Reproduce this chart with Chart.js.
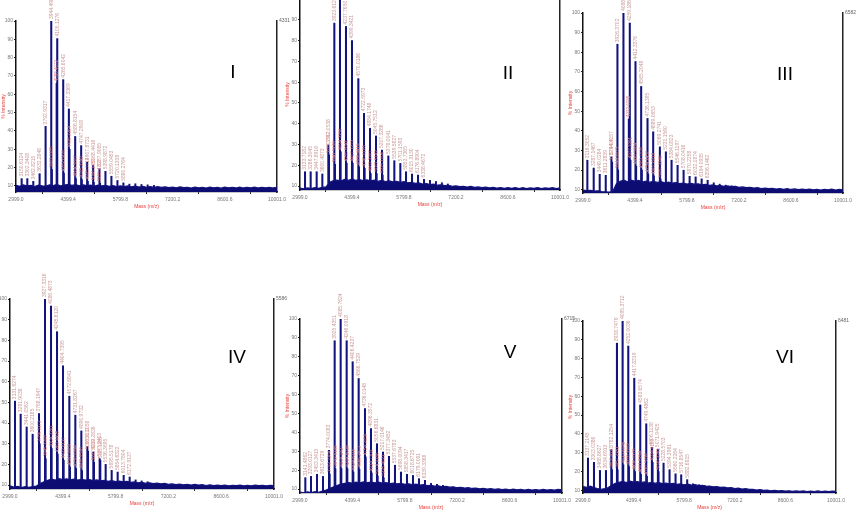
<!DOCTYPE html>
<html>
<head>
<meta charset="utf-8">
<script src="https://cdn.jsdelivr.net/npm/chart.js@4.4.1/dist/chart.umd.min.js"></script>
<style>
  html, body { margin: 0; padding: 0; background: #fff; }
  body { width: 866px; height: 516px; position: relative; overflow: hidden; font-family: 'Liberation Sans', Arial, sans-serif; }
  .panel { position: absolute; }
  .roman { position: absolute; font-size: 19px; line-height: 19px; color: #000; transform: translateX(-50%); white-space: nowrap; }
</style>
</head>
<body>
<div class="panel" style="left:1px; top:-5px; width:292px; height:215px"><canvas id="specI"></canvas></div>
<div class="panel" style="left:285px; top:-27px; width:291px; height:235px"><canvas id="specII"></canvas></div>
<div class="panel" style="left:568px; top:-13px; width:291px; height:224px"><canvas id="specIII"></canvas></div>
<div class="panel" style="left:-5px; top:273px; width:295px; height:234px"><canvas id="specIV"></canvas></div>
<div class="panel" style="left:285px; top:293px; width:293px; height:218px"><canvas id="specV"></canvas></div>
<div class="panel" style="left:568px; top:295px; width:284px; height:216px"><canvas id="specVI"></canvas></div>

<div class="roman" style="left:233px; top:62px">I</div>
<div class="roman" style="left:508px; top:63px">II</div>
<div class="roman" style="left:785px; top:64px">III</div>
<div class="roman" style="left:237px; top:347px">IV</div>
<div class="roman" style="left:510px; top:342px">V</div>
<div class="roman" style="left:785px; top:347px">VI</div>

<script>
// axis ticks
const xTicks = [2999.0, 4399.4, 5799.8, 7200.2, 8600.6, 10001.0];
const yTicks = [10, 20, 30, 40, 50, 60, 70, 80, 90, 100];

// baseline (noise band) sampled every 100 Da
const baseMass = [3000, 3100, 3200, 3300, 3400, 3500, 3600, 3700, 3800, 3900,
    4000, 4100, 4200, 4300, 4400, 4500, 4600, 4700, 4800, 4900,
    5000, 5100, 5200, 5300, 5400, 5500, 5600, 5700, 5800, 5900,
    6000, 6100, 6200, 6300, 6400, 6500, 6600, 6700, 6800, 6900,
    7000, 7100, 7200, 7300, 7400, 7500, 7600, 7700, 7800, 7900,
    8000, 8100, 8200, 8300, 8400, 8500, 8600, 8700, 8800, 8900,
    9000, 9100, 9200, 9300, 9400, 9500, 9600, 9700, 9800, 9900, 10000];

// ---- I ----
const massI = [3150.6124, 3302.3408, 3462.8215, 3632.2846, 3792.9317, 3944.4981, 4105.1276, 4265.6042, 4417.3369,
    4586.8154, 4747.2908, 4907.8731, 5068.4416, 5237.9065, 5398.9872, 5559.0453, 5720.1338, 5880.2764];
const intI = [14, 14, 12.5, 16.7, 42.5, 100, 90.4, 68, 52, 37, 32, 23, 21.3, 19.5, 18, 15.3, 13, 11.7];
const minorMassI = [3962.1185, 4088.4072, 4282.6931, 4435.2264, 4604.5817, 4765.3349, 4925.7712, 5086.1480, 5255.4203,
    6040.5, 6200.8, 6365.2, 6530.7, 6700.3];
const minorIntI = [19, 66, 17, 30, 14, 13.5, 12.5, 12, 11.5, 11, 11.2, 10.8, 10.6, 10.3];
const baseI = [10.4, 9.8, 10.6, 10.0, 10.3, 9.7, 10.5, 10.1, 9.9, 10.6,
    10.2, 10.8, 10.0, 10.5, 10.9, 10.3, 10.7, 10.1, 10.6, 10.2,
    10.5, 9.9, 10.4, 10.0, 10.3, 9.8, 10.2, 9.7, 10.1, 9.6,
    10.0, 9.5, 9.9, 9.4, 9.8, 9.3, 9.7, 9.2, 9.6, 9.3,
    9.5, 9.1, 9.4, 9.0, 9.5, 9.1, 9.3, 8.9, 9.4, 9.0,
    9.3, 8.9, 9.4, 9.0, 9.2, 8.8, 9.3, 9.0, 9.2, 8.9,
    9.3, 8.9, 9.2, 9.0, 9.4, 8.9, 9.2, 9.0, 9.3, 8.9, 9.2];

// ---- II ----
const massII = [3133.7182, 3286.3045, 3447.8916, 3600.4873, 3762.0538, 3923.6127, 4076.1894, 4237.7650, 4399.3421,
    4570.0186, 4722.5973, 4884.1748, 5045.7512, 5207.3286, 5378.0041, 5539.5827, 5701.1593, 5853.7365, 6015.3130,
    6176.8904, 6338.4672];
const intII = [16.9, 16.9, 16.9, 15.8, 29.8, 88.4, 100, 86.8, 80, 61.7, 45, 37.8, 34.1, 27.3, 24.5, 22.2, 20.9, 16.9,
    15.8, 15.3, 13.2];
const minorMassII = [3780.2317, 3941.5128, 4094.3356, 4255.8041, 4417.1273, 4588.4419, 4740.6185, 4902.2307, 5063.5142,
    5225.1096, 6500.4, 6660.8, 6820.3, 6980.5];
const minorIntII = [25, 20.5, 26.5, 21, 21, 19.3, 18.5, 16, 16, 15.3, 12.8, 12.2, 11.6, 11];
const baseII = [9.0, 8.7, 9.1, 8.8, 9.2, 8.9, 9.4, 9.6, 11.8, 12.6,
    12.9, 12.4, 13.2, 12.7, 13.3, 12.8, 13.1, 12.6, 13.0, 12.5,
    12.8, 12.3, 12.7, 12.2, 12.5, 12.0, 12.3, 11.8, 12.1, 11.6,
    11.8, 11.3, 11.5, 11.0, 11.2, 10.7, 10.9, 10.4, 10.6, 10.2,
    10.3, 9.9, 10.1, 9.7, 9.9, 9.5, 9.8, 9.4, 9.6, 9.3,
    9.5, 9.1, 9.4, 9.0, 9.3, 8.9, 9.2, 8.9, 9.3, 8.8,
    9.2, 8.8, 9.1, 8.9, 9.3, 8.8, 9.1, 8.9, 9.2, 8.8, 9.1];

// ---- III ----
const massIII = [3116.3052, 3287.1467, 3449.0284, 3611.2839, 3764.4157, 3926.3702, 4088.2519, 4259.1864, 4412.3376,
    4565.2048, 4736.1395, 4889.0653, 5069.2741, 5231.1560, 5384.0823, 5546.1197, 5708.0416, 5870.2258, 6032.1874,
    6194.0935, 6356.1462];
const intIII = [25, 21, 17.8, 17.3, 26.7, 84.1, 100, 94.9, 75.3, 62.6, 46.3, 39.5, 31.8, 29.3, 25, 22.4, 19.9, 16.8,
    16.5, 15.5, 14.8];
const minorMassIII = [3782.4408, 3944.2173, 4232.6085, 4277.3291, 4430.5064, 4583.7130, 4754.1457, 4907.6218, 5087.3349,
    6520.4, 6680.2, 6840.7, 7000.3];
const minorIntIII = [24, 20, 46, 25, 22, 20, 18, 17, 15.5, 13.5, 12.8, 12.3, 12];
const baseIII = [9.8, 9.5, 9.7, 9.3, 9.4, 9.0, 8.9, 8.7, 9.0, 13.0,
    14.2, 14.8, 14.0, 14.9, 14.3, 14.7, 13.9, 14.4, 13.8, 14.2,
    13.7, 14.1, 13.5, 13.9, 13.3, 13.6, 13.1, 13.4, 12.9, 13.2,
    12.8, 13.0, 12.5, 12.7, 12.2, 12.4, 11.9, 12.1, 11.7, 11.9,
    11.5, 11.7, 11.2, 11.4, 11.0, 11.2, 10.8, 11.0, 10.6, 10.8,
    10.5, 10.7, 10.3, 10.6, 10.2, 10.5, 10.1, 10.4, 10.0, 10.3,
    10.0, 10.3, 9.9, 10.2, 9.8, 10.2, 9.9, 10.3, 9.8, 10.1, 9.9];

// ---- IV ----
const massIV = [3131.6274, 3281.9038, 3441.0562, 3600.2185, 3768.1947, 3927.3316, 4086.4873, 4245.6120, 4404.7395,
    4572.6841, 4731.8267, 4890.9732, 5050.1058, 5209.2836, 5377.2413, 5536.3695, 5695.5178, 5854.6322, 6013.7804,
    6172.9137];
const intIV = [50.6, 44.3, 38.1, 34.6, 44.6, 100, 96.6, 84.2, 67.7, 53, 43.8, 36.2, 28.7, 26, 22.8, 20, 17.1, 16.3,
    14.7, 13.9];
const minorMassIV = [3786.5172, 3945.3308, 4104.2261, 4263.4495, 4422.6137, 4590.3082, 4750.1394, 4908.5526, 5068.2173,
    5227.4019, 5395.1265, 6330.6, 6490.2, 6650.8];
const minorIntIV = [30, 22.8, 27.7, 25, 22, 18.7, 18, 17, 26.5, 21, 22, 12.5, 12, 11.6];
const baseIV = [9.6, 9.0, 9.4, 8.8, 9.2, 8.9, 9.3, 9.5, 10.8, 11.6,
    12.3, 12.9, 12.4, 13.1, 12.6, 13.0, 12.5, 12.9, 12.4, 12.8,
    12.4, 12.7, 12.2, 12.5, 12.0, 12.3, 11.8, 12.1, 11.7, 11.9,
    11.6, 11.8, 11.3, 11.5, 11.1, 11.3, 10.9, 11.1, 10.7, 10.9,
    10.6, 10.8, 10.4, 10.6, 10.2, 10.5, 10.1, 10.4, 10.0, 10.3,
    10.0, 10.2, 9.8, 10.1, 9.7, 10.0, 9.7, 10.0, 9.6, 9.9,
    9.7, 10.0, 9.6, 9.9, 9.6, 10.0, 9.7, 9.9, 9.6, 9.9, 9.7];

// ---- V ----
const massV = [3141.4862, 3293.0127, 3453.3415, 3613.6729, 3774.0083, 3925.4351, 4085.7624, 4246.0918, 4406.4237,
    4566.7529, 4736.0148, 4896.3572, 5056.6831, 5217.0146, 5377.3452, 5537.6783, 5698.0094, 5858.3417, 6018.6725,
    6179.0061, 6339.3368];
const intV = [16, 16.7, 17.8, 16.7, 30.5, 88.5, 100, 88.5, 77.4, 68.5, 52.6, 42, 34, 29.6, 27.3, 22.6, 19, 17.8,
    17.2, 15.5, 14.6];
const minorMassV = [3792.3364, 3943.6195, 4104.1427, 4264.5038, 4424.8216, 4585.2473, 4754.3159, 4914.7302, 5074.9186,
    5235.4021, 6500.6, 6660.3, 6820.5];
const minorIntV = [18, 20.8, 20.8, 20.8, 19, 20.5, 27, 18.5, 17, 16, 13, 12.5, 12];
const baseV = [8.4, 8.0, 8.5, 8.1, 8.6, 8.3, 8.9, 9.5, 10.4, 11.2,
    12.0, 12.6, 13.0, 13.4, 13.1, 13.7, 13.3, 13.8, 13.4, 13.7,
    13.3, 13.6, 13.1, 13.4, 12.9, 13.2, 12.7, 13.0, 12.5, 12.8,
    12.4, 12.6, 12.1, 12.3, 11.8, 12.0, 11.5, 11.7, 11.2, 11.4,
    11.0, 11.2, 10.7, 10.9, 10.5, 10.7, 10.3, 10.5, 10.1, 10.3,
    10.0, 10.2, 9.8, 10.1, 9.7, 10.0, 9.6, 9.9, 9.6, 9.8,
    9.5, 9.8, 9.5, 9.7, 9.4, 9.8, 9.5, 9.7, 9.4, 9.8, 9.6];

// ---- VI ----
const massVI = [3137.2145, 3303.0386, 3468.8627, 3634.6913, 3782.1254, 3938.7479, 4095.3712, 4252.0036, 4417.8319,
    4583.6574, 4749.4862, 4906.1138, 5071.9425, 5228.5703, 5394.3981, 5560.2264, 5716.8547, 5882.6815];
const intVI = [27.2, 24.9, 20.6, 20.6, 31.6, 88.2, 100, 86.7, 69.6, 55.4, 45.4, 32.8, 31.9, 24.5, 21, 18.8, 18.3, 15.7];
const minorMassVI = [3800.4127, 3957.2381, 4113.6045, 4270.3312, 4436.1178, 4601.8294, 4767.5036, 4924.9183, 5090.2241,
    6045.3, 6210.7, 6375.1];
const minorIntVI = [21, 21, 23.6, 22.7, 20, 18.5, 17.5, 24.9, 20, 13.5, 13, 12.5];
const baseVI = [12.0, 11.6, 12.2, 11.5, 11.0, 10.6, 10.9, 11.5, 12.8, 13.8,
    14.3, 14.8, 14.2, 14.9, 14.4, 14.7, 14.1, 14.5, 13.9, 14.3,
    13.8, 14.1, 13.6, 13.9, 13.4, 13.7, 13.2, 13.5, 13.0, 13.3,
    12.8, 13.0, 12.5, 12.7, 12.2, 12.3, 11.9, 12.0, 11.6, 11.7,
    11.3, 11.5, 11.0, 11.2, 10.7, 10.9, 10.5, 10.6, 10.2, 10.4,
    10.0, 10.2, 9.8, 10.0, 9.7, 9.9, 9.6, 9.8, 9.5, 9.7,
    9.5, 9.7, 9.4, 9.6, 9.4, 9.7, 9.4, 9.6, 9.3, 9.6, 9.5];

const NAVY = '#13137f';
const FONT = "'Liberation Sans', Arial, sans-serif";

// rotated mass labels above each peak
const peakLabels = {
    id: 'peakLabels',
    afterDatasetsDraw(chart) {
        const ctx = chart.ctx;
        chart.data.datasets.forEach((ds, i) => {
            if (!ds.peakText) return;
            const meta = chart.getDatasetMeta(i);
            ctx.save();
            ctx.font = ds.peakTextSize + 'px ' + FONT;
            ctx.fillStyle = ds.peakTextColor;
            ctx.textAlign = 'left';
            ctx.textBaseline = 'middle';
            meta.data.forEach((bar, j) => {
                const t = ds.peakText[j];
                if (!t) return;
                ctx.save();
                ctx.translate(bar.x, bar.y - 2);
                ctx.rotate(-Math.PI / 2);
                ctx.fillText(t, 0, 0);
                ctx.restore();
            });
            ctx.restore();
        });
    }
};

// max counts at the top of the right-hand line
const maxCount = {
    id: 'maxCount',
    afterDraw(chart, args, opts) {
        if (!opts.text) return;
        const { ctx, chartArea } = chart;
        ctx.save();
        ctx.font = '5px ' + FONT;
        ctx.fillStyle = '#666';
        ctx.textBaseline = 'middle';
        ctx.fillText(opts.text, chartArea.right + 2, chartArea.top);
        ctx.restore();
    }
};

function makeSpectrum(id, mass, inten, minorMass, minorInt, base, ymin, countText) {
    new Chart(document.getElementById(id), {
        type: 'bar',
        data: {
            datasets: [
                {
                    type: 'line',
                    data: baseMass.map((m, i) => ({ x: m, y: base[i] })),
                    borderColor: NAVY,
                    backgroundColor: '#0c0c72',
                    borderWidth: 1.2,
                    pointRadius: 0,
                    tension: 0,
                    fill: 'start',
                    order: 0
                },
                {
                    data: minorMass.map((m, i) => ({ x: m, y: minorInt[i] })),
                    backgroundColor: NAVY,
                    barThickness: 1.3,
                    grouped: false,
                    base: ymin,
                    peakText: minorMass.map(m => m < 5500 ? m.toFixed(4) : ''),
                    peakTextColor: '#e58a86',
                    peakTextSize: 4.5,
                    order: 1
                },
                {
                    data: mass.map((m, i) => ({ x: m, y: inten[i] })),
                    backgroundColor: NAVY,
                    barThickness: 1.4,
                    grouped: false,
                    base: ymin,
                    peakText: mass.map(m => m.toFixed(4)),
                    peakTextColor: '#c99a9a',
                    peakTextSize: 5,
                    order: 2
                }
            ]
        },
        options: {
            responsive: true,
            maintainAspectRatio: false,
            animation: false,
            layout: { padding: { top: 26, right: 16, left: 0, bottom: 0 } },
            font: { family: FONT },
            scales: {
                x: {
                    type: 'linear',
                    min: 2999, max: 10001,
                    offset: false,
                    grid: { display: true, drawOnChartArea: false, tickLength: 2, color: '#222' },
                    border: { color: '#222', width: 1.2 },
                    ticks: {
                        autoSkip: false, maxRotation: 0, minRotation: 0, padding: 3,
                        color: '#777', font: { size: 5, family: FONT },
                        callback: v => Number(v).toFixed(1)
                    },
                    title: { display: true, text: 'Mass (m/z)', color: '#e8413c', font: { size: 5, family: FONT }, padding: { top: 3, bottom: 0 } },
                    afterBuildTicks(s) { s.ticks = xTicks.map(v => ({ value: v })); },
                    afterFit(s) { s.height = 18; }
                },
                y: {
                    min: ymin, max: 100,
                    grid: { display: true, drawOnChartArea: false, tickLength: 2, color: '#222' },
                    border: { color: '#111', width: 1.5 },
                    ticks: { padding: 1, color: '#777', font: { size: 5, family: FONT } },
                    title: { display: true, text: '% Intensity', color: '#e8413c', font: { size: 5, family: FONT }, padding: 0 },
                    afterBuildTicks(s) { s.ticks = yTicks.map(v => ({ value: v })); },
                    afterFit(s) { s.width = 15; }
                },
                y1: {
                    position: 'right',
                    display: true,
                    min: 0, max: 1,
                    ticks: { display: false },
                    grid: { display: true, drawOnChartArea: false, drawTicks: false },
                    border: { color: '#222', width: 1.5 },
                    afterFit(s) { s.width = 0; }
                }
            },
            plugins: {
                legend: { display: false },
                tooltip: { enabled: false },
                maxCount: { text: countText }
            }
        },
        plugins: [peakLabels, maxCount]
    });
}

makeSpectrum('specI', massI, intI, minorMassI, minorIntI, baseI, 6.7, '4331');
makeSpectrum('specII', massII, intII, minorMassII, minorIntII, baseII, 8.1, '');
makeSpectrum('specIII', massIII, intIII, minorMassIII, minorIntIII, baseIII, 8.3, '6582');
makeSpectrum('specIV', massIV, intIV, minorMassIV, minorIntIV, baseIV, 8.1, '5586');
makeSpectrum('specV', massV, intV, minorMassV, minorIntV, baseV, 7.9, '6715');
makeSpectrum('specVI', massVI, intVI, minorMassVI, minorIntVI, baseVI, 8.6, '6481');
</script>
</body>
</html>
